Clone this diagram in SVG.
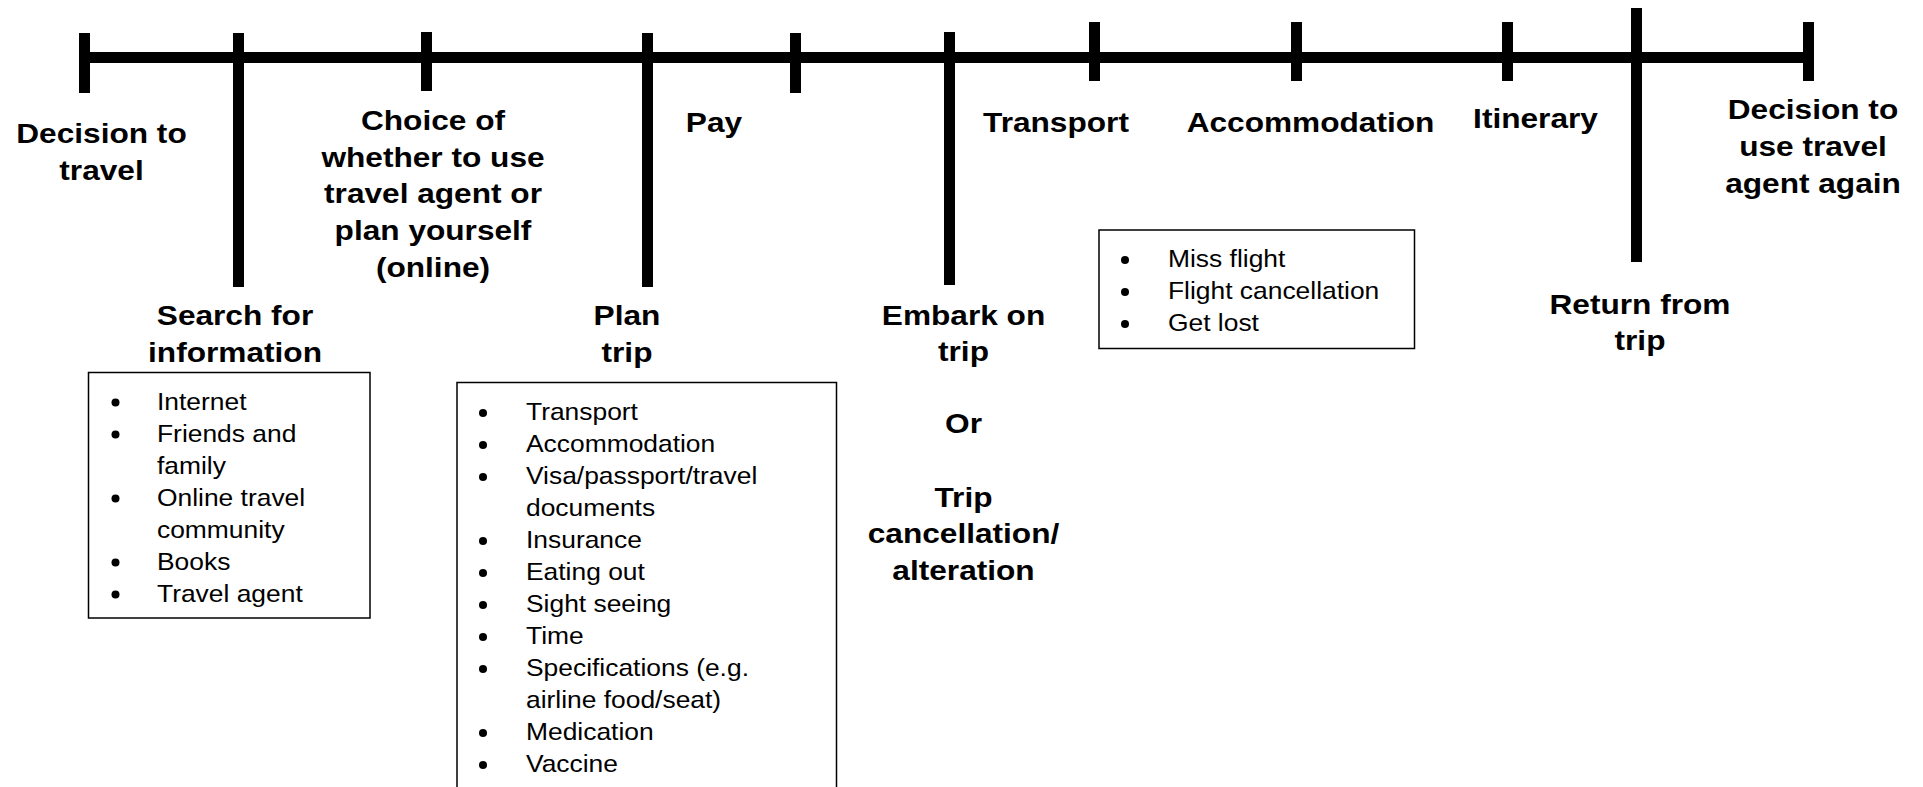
<svg xmlns="http://www.w3.org/2000/svg" width="1923" height="787" viewBox="0 0 1923 787">
<style>
.tick{fill:#000}
.lbl{font-family:"Liberation Sans",Arial,sans-serif;font-weight:bold;font-size:28px;text-anchor:middle;fill:#000}
.li{font-family:"Liberation Sans",Arial,sans-serif;font-size:24px;fill:#000}
.box{fill:#fff;stroke:#000;stroke-width:1.5}
.dot{fill:#000}
</style>
<rect width="1923" height="787" fill="#fff"/>
<g id="connectors">
<rect class="tick" x="79" y="52" width="1735" height="11"/>
</g>
<g id="n-decision">
<rect class="tick" x="79" y="33" width="11" height="60"/>
<text class="lbl" transform="matrix(1.13,0,0,1,101.5,0)"><tspan x="0" y="143">Decision to</tspan><tspan x="0" y="180">travel</tspan></text>
</g>
<g id="n-search">
<rect class="tick" x="233" y="33" width="11" height="254"/>
<text class="lbl" transform="matrix(1.13,0,0,1,235,0)"><tspan x="0" y="325">Search for</tspan><tspan x="0" y="362">information</tspan></text>
<rect class="box" x="88.5" y="372.5" width="281.5" height="245.5"/>
<g class="dot"><circle cx="115.5" cy="402.5" r="4"/><circle cx="115.5" cy="434.5" r="4"/><circle cx="115.5" cy="498.5" r="4"/><circle cx="115.5" cy="562.5" r="4"/><circle cx="115.5" cy="594.5" r="4"/></g>
<text class="li" transform="matrix(1.1,0,0,1,157,0)"><tspan x="0" y="410">Internet</tspan><tspan x="0" y="442">Friends and</tspan><tspan x="0" y="474">family</tspan><tspan x="0" y="506">Online travel</tspan><tspan x="0" y="538">community</tspan><tspan x="0" y="570">Books</tspan><tspan x="0" y="602">Travel agent</tspan></text>
</g>
<g id="n-choice">
<rect class="tick" x="421" y="32" width="11" height="59"/>
<text class="lbl" transform="matrix(1.13,0,0,1,433,0)"><tspan x="0" y="130">Choice of</tspan><tspan x="0" y="167">whether to use</tspan><tspan x="0" y="203">travel agent or</tspan><tspan x="0" y="240">plan yourself</tspan><tspan x="0" y="277">(online)</tspan></text>
</g>
<g id="n-plan">
<rect class="tick" x="642" y="33" width="11" height="254"/>
<text class="lbl" transform="matrix(1.13,0,0,1,627,0)"><tspan x="0" y="325">Plan</tspan><tspan x="0" y="362">trip</tspan></text>
<rect class="box" x="457" y="382.5" width="379.5" height="420"/>
<g class="dot"><circle cx="483" cy="413" r="4"/><circle cx="483" cy="445" r="4"/><circle cx="483" cy="477" r="4"/><circle cx="483" cy="541" r="4"/><circle cx="483" cy="573" r="4"/><circle cx="483" cy="605" r="4"/><circle cx="483" cy="637" r="4"/><circle cx="483" cy="669" r="4"/><circle cx="483" cy="733" r="4"/><circle cx="483" cy="765" r="4"/></g>
<text class="li" transform="matrix(1.1,0,0,1,526,0)"><tspan x="0" y="420">Transport</tspan><tspan x="0" y="452">Accommodation</tspan><tspan x="0" y="484">Visa/passport/travel</tspan><tspan x="0" y="516">documents</tspan><tspan x="0" y="548">Insurance</tspan><tspan x="0" y="580">Eating out</tspan><tspan x="0" y="612">Sight seeing</tspan><tspan x="0" y="644">Time</tspan><tspan x="0" y="676">Specifications (e.g.</tspan><tspan x="0" y="708">airline food/seat)</tspan><tspan x="0" y="740">Medication</tspan><tspan x="0" y="772">Vaccine</tspan></text>
</g>
<g id="n-pay">
<rect class="tick" x="790" y="33" width="11" height="60"/>
<text class="lbl" transform="matrix(1.13,0,0,1,714,0)"><tspan x="0" y="132">Pay</tspan></text>
</g>
<g id="n-embark">
<rect class="tick" x="944" y="32" width="11" height="253"/>
<text class="lbl" transform="matrix(1.13,0,0,1,963.5,0)"><tspan x="0" y="325">Embark on</tspan><tspan x="0" y="361">trip</tspan><tspan x="0" y="433">Or</tspan><tspan x="0" y="507">Trip</tspan><tspan x="0" y="543">cancellation/</tspan><tspan x="0" y="580">alteration</tspan></text>
</g>
<g id="n-transport">
<rect class="tick" x="1089" y="22" width="11" height="59"/>
<text class="lbl" transform="matrix(1.13,0,0,1,1056,0)"><tspan x="0" y="132">Transport</tspan></text>
<rect class="box" x="1099" y="230" width="315.5" height="118.5"/>
<g class="dot"><circle cx="1125" cy="260" r="4"/><circle cx="1125" cy="292" r="4"/><circle cx="1125" cy="324" r="4"/></g>
<text class="li" transform="matrix(1.1,0,0,1,1168,0)"><tspan x="0" y="267">Miss flight</tspan><tspan x="0" y="299">Flight cancellation</tspan><tspan x="0" y="331">Get lost</tspan></text>
</g>
<g id="n-accommodation">
<rect class="tick" x="1291" y="22" width="11" height="59"/>
<text class="lbl" transform="matrix(1.13,0,0,1,1310.5,0)"><tspan x="0" y="132">Accommodation</tspan></text>
</g>
<g id="n-itinerary">
<rect class="tick" x="1502" y="22" width="11" height="59"/>
<text class="lbl" transform="matrix(1.13,0,0,1,1535.5,0)"><tspan x="0" y="128">Itinerary</tspan></text>
</g>
<g id="n-return">
<rect class="tick" x="1631" y="8" width="11" height="254"/>
<text class="lbl" transform="matrix(1.13,0,0,1,1640,0)"><tspan x="0" y="314">Return from</tspan><tspan x="0" y="350">trip</tspan></text>
</g>
<g id="n-again">
<rect class="tick" x="1803" y="22" width="11" height="59"/>
<text class="lbl" transform="matrix(1.13,0,0,1,1813,0)"><tspan x="0" y="119">Decision to</tspan><tspan x="0" y="156">use travel</tspan><tspan x="0" y="193">agent again</tspan></text>
</g>
</svg>
